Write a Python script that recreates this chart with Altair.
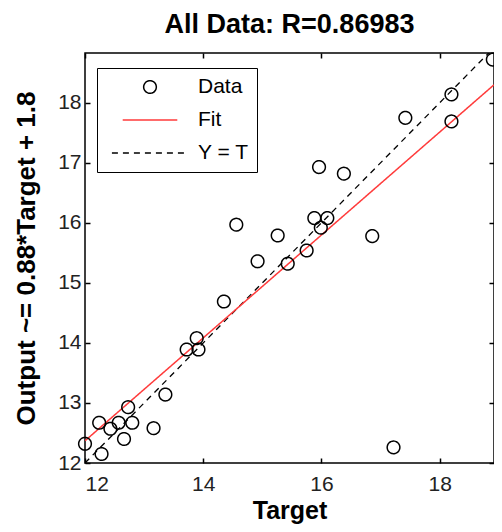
import altair as alt
import pandas as pd

# ---- data ----
target = [18.90, 18.20, 18.20, 17.42, 15.96, 16.38, 15.88, 16.10, 15.99, 14.56,
          15.26, 16.86, 14.92, 15.43, 15.75, 14.35, 13.89, 13.72, 13.92, 13.36,
          12.73, 13.16, 12.24, 12.43, 12.57, 12.80, 12.66, 12.00, 12.28, 17.22]
output = [18.72, 18.14, 17.69, 17.75, 16.93, 16.82, 16.08, 16.08, 15.92, 15.97,
          15.79, 15.78, 15.36, 15.32, 15.54, 14.69, 14.08, 13.89, 13.89, 13.14,
          12.93, 12.58, 12.67, 12.57, 12.67, 12.67, 12.40, 12.32, 12.15, 12.26]
fit_x = [12.0, 18.92]
fit_y = [12.37, 18.30]
ident_x = [12.0, 18.92]
ident_y = [12.0, 18.92]
x_ticks = [12, 14, 16, 18]
y_ticks = [12, 13, 14, 15, 16, 17, 18]
series = ["Data", "Fit", "Y = T"]
x_domain = [12.0, 18.92]
y_domain = [12.0, 18.83]

FONT = "Liberation Sans"

df_pts = pd.DataFrame({"Target": target, "Output": output, "series": "Data"})
df_fit = pd.DataFrame({"Target": fit_x, "Output": fit_y, "series": "Fit"})
df_id = pd.DataFrame({"Target": ident_x, "Output": ident_y, "series": "Y = T"})

sc_color = alt.Scale(domain=series, range=["black", "#ff3b3b", "black"])
sc_dash = alt.Scale(domain=series, range=[[1, 0], [1, 0], [6, 5]])
sc_shape = alt.Scale(domain=series, range=["circle", "stroke", "stroke"])
sc_size = alt.Scale(domain=series, range=[160, 5800, 5800])

legend = alt.Legend(
    title=None, orient="none", legendX=12, legendY=15,
    padding=8, symbolOffset=6, strokeColor="black", fillColor="white",
    labelFont=FONT, labelFontSize=21, labelColor="black",
    labelOffset=9, rowPadding=11, symbolStrokeWidth=1.5,
    clipHeight=22,
)

xs = alt.Scale(domain=x_domain, nice=False, zero=False)
ys = alt.Scale(domain=y_domain, nice=False, zero=False)

x_main = alt.Axis(values=x_ticks, ticks=False, domain=False, grid=False,
                  labelFont=FONT, labelFontSize=21, labelColor="#222",
                  labelPadding=10, title="Target", titleFont=FONT,
                  titleFontSize=25, titleFontWeight="bold", titleColor="black",
                  titlePadding=4)
y_main = alt.Axis(values=y_ticks, ticks=False, domain=False, grid=False,
                  labelFont=FONT, labelFontSize=21, labelColor="#222",
                  labelPadding=4, title="Output ~= 0.88*Target + 1.8",
                  titleFont=FONT, titleFontSize=26, titleFontWeight="bold",
                  titleColor="black", titlePadding=18)


def tick_axis(values, orient):
    return alt.Axis(values=values, orient=orient, offset=-5, tickSize=5,
                    tickWidth=1.5, tickColor="black", domain=False,
                    labels=False, grid=False, title=None)


points = alt.Chart(df_pts).mark_point(filled=False, strokeWidth=1.5, opacity=1).encode(
    x=alt.X("Target:Q", scale=xs, axis=x_main),
    y=alt.Y("Output:Q", scale=ys, axis=y_main),
    color=alt.Color("series:N", scale=sc_color, legend=legend),
    strokeDash=alt.StrokeDash("series:N", scale=sc_dash, legend=legend),
    shape=alt.Shape("series:N", scale=sc_shape, legend=legend),
    size=alt.Size("series:N", scale=sc_size, legend=legend),
)

fit = alt.Chart(df_fit).mark_line(clip=True, strokeWidth=1.5).encode(
    x=alt.X("Target:Q", scale=xs, axis=tick_axis(x_ticks, "bottom")),
    y=alt.Y("Output:Q", scale=ys, axis=tick_axis(y_ticks, "left")),
    color=alt.Color("series:N", scale=sc_color, legend=legend),
    strokeDash=alt.StrokeDash("series:N", scale=sc_dash, legend=legend),
)

ident = alt.Chart(df_id).mark_line(clip=True, strokeWidth=1.3).encode(
    x=alt.X("Target:Q", scale=xs, axis=tick_axis(x_ticks, "top")),
    y=alt.Y("Output:Q", scale=ys, axis=tick_axis(y_ticks, "right")),
    color=alt.Color("series:N", scale=sc_color, legend=legend),
    strokeDash=alt.StrokeDash("series:N", scale=sc_dash, legend=legend),
)

chart = alt.layer(ident, fit, points).resolve_axis(
    x="independent", y="independent"
).properties(
    width=409, height=410,
    title=alt.Title("All Data: R=0.86983", font=FONT, fontSize=27,
                    fontWeight="bold", color="black", anchor="middle",
                    frame="group", offset=11),
    autosize=alt.AutoSizeParams(type="none"),
    padding={"left": 77, "top": 45, "right": 0, "bottom": 61},
).configure_view(stroke="black", strokeWidth=1.5)

chart.save("out.html", embed_options={"renderer": "svg", "actions": False})
